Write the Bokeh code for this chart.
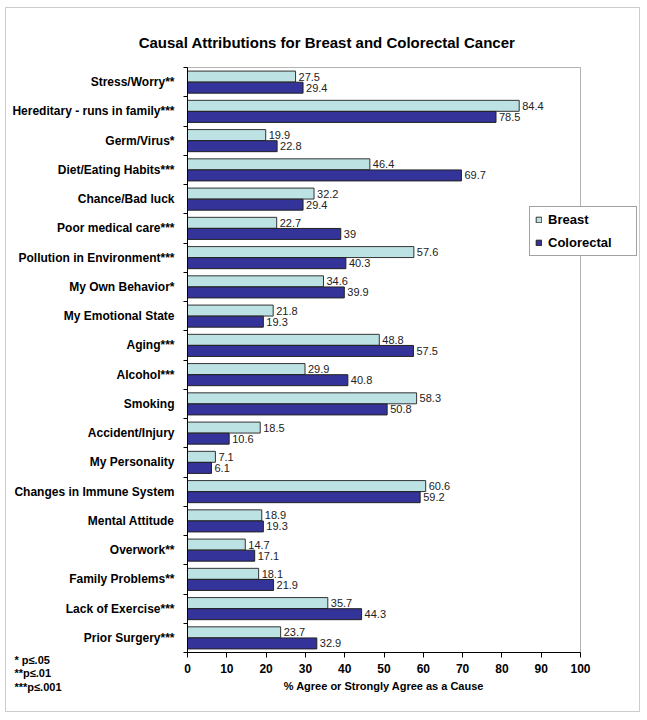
from bokeh.plotting import figure
from bokeh.models import (ColumnDataSource, FixedTicker, Legend, LegendItem, Label,
                          Range1d, BoxAnnotation)
from bokeh.core.properties import value
from bokeh.embed import file_html
from bokeh.resources import INLINE

categories = [
    "Stress/Worry**", "Hereditary - runs in family***", "Germ/Virus*",
    "Diet/Eating Habits***", "Chance/Bad luck", "Poor medical care***",
    "Pollution in Environment***", "My Own Behavior*", "My Emotional State",
    "Aging***", "Alcohol***", "Smoking", "Accident/Injury", "My Personality",
    "Changes in Immune System", "Mental Attitude", "Overwork**",
    "Family Problems**", "Lack of Exercise***", "Prior Surgery***",
]
breast = [27.5, 84.4, 19.9, 46.4, 32.2, 22.7, 57.6, 34.6, 21.8, 48.8,
          29.9, 58.3, 18.5, 7.1, 60.6, 18.9, 14.7, 18.1, 35.7, 23.7]
colorectal = [29.4, 78.5, 22.8, 69.7, 29.4, 39, 40.3, 39.9, 19.3, 57.5,
              40.8, 50.8, 10.6, 6.1, 59.2, 19.3, 17.1, 21.9, 44.3, 32.9]
x_ticks = [0, 10, 20, 30, 40, 50, 60, 70, 80, 90, 100]
footnotes = ["* p\u2264.05", "**p\u2264.01", "***p\u2264.001"]
title_text = "Causal Attributions for Breast and Colorectal Cancer"
x_title = "% Agree or Strongly Agree as a Cause"

FONT = "Liberation Sans"
BREAST_COLOR = "#BDE2E4"
COLO_COLOR = "#333399"

# ---- layout (pixels) ----
W, H = 645, 716
FX0, FX1 = 187, 580          # pixel x of value 0 and 100
FY0, FY1 = 67, 652           # pixel y of plot-box top and bottom
n = len(categories)
PXS = (FX1 - FX0) / 100.0
PYS = (FY1 - FY0) / n
top_v = n - 0.5
bot_v = -0.5


def dx(px):
    return (px - FX0) / PXS


def dy(py):
    return top_v - (py - FY0) / PYS


centers = [n - 1 - i for i in range(n)]
off = 0.19
hgt = 0.375

src_b = ColumnDataSource(dict(y=[c + off for c in centers], v=breast,
                              t=[f"{v:g}" for v in breast]))
src_c = ColumnDataSource(dict(y=[c - off for c in centers], v=colorectal,
                              t=[f"{v:g}" for v in colorectal]))

p = figure(width=W, height=H, output_backend="svg", toolbar_location=None,
           x_range=Range1d(dx(0), dx(W)), y_range=Range1d(dy(H), dy(0)),
           min_border_left=0, min_border_right=0, min_border_top=0,
           min_border_bottom=0)
p.outline_line_color = None
p.xgrid.visible = False
p.ygrid.visible = False

# outer border
p.add_layout(BoxAnnotation(left=dx(5), right=dx(639), top=dy(7), bottom=dy(711),
                           fill_alpha=0, line_color="#555555", line_width=1))
# plot box
p.add_layout(BoxAnnotation(left=0, right=100, top=top_v, bottom=bot_v,
                           fill_alpha=0, line_color="black", line_width=1))

rb = p.hbar(y="y", right="v", left=0, height=hgt, source=src_b,
            fill_color=BREAST_COLOR, line_color="#333333", line_width=1)
rc = p.hbar(y="y", right="v", left=0, height=hgt, source=src_c,
            fill_color=COLO_COLOR, line_color="#222222", line_width=1)

for src in (src_b, src_c):
    p.text(x="v", y="y", text="t", source=src, x_offset=3,
           text_font=value(FONT), text_font_size="11px",
           text_baseline="middle", text_align="left", text_color="#222222")

# x axis
xa = p.xaxis[0]
xa.fixed_location = bot_v
xa.bounds = (0, 100)
xa.ticker = FixedTicker(ticks=x_ticks)
xa.major_tick_out = 5
xa.major_tick_in = 0
xa.minor_tick_out = 0
xa.major_label_standoff = 6
xa.major_label_text_font = FONT
xa.major_label_text_font_style = "bold"
xa.major_label_text_font_size = "12px"
xa.major_label_text_color = "black"
xa.axis_label = x_title
xa.axis_label_text_font = FONT
xa.axis_label_text_font_style = "bold"
xa.axis_label_text_font_size = "11px"
xa.axis_label_standoff = 4
xa.axis_label_text_color = "black"
xa.axis_line_color = "black"
xa.major_tick_line_color = "black"

# y axis
ya = p.yaxis[0]
ya.fixed_location = 0
ya.bounds = (bot_v, top_v)
ya.ticker = FixedTicker(ticks=centers,
                        minor_ticks=[c + 0.5 for c in centers] + [bot_v])
ya.major_label_overrides = {c: categories[i] for i, c in enumerate(centers)}
ya.major_tick_out = 0
ya.major_tick_in = 0
ya.minor_tick_out = 4
ya.minor_tick_in = 0
ya.minor_tick_line_color = "black"
ya.major_label_standoff = 9
ya.major_label_text_font = FONT
ya.major_label_text_font_style = "bold"
ya.major_label_text_font_size = "12px"
ya.major_label_text_color = "black"
ya.axis_line_color = "black"

# title
p.add_layout(Label(x=dx(326.5), y=dy(42), text=title_text,
                   text_font=FONT, text_font_style="bold", text_font_size="15px",
                   text_align="center", text_baseline="middle", text_color="black"))

# footnotes
for k, ft in enumerate(footnotes):
    p.add_layout(Label(x=dx(14), y=dy(659 + 13.5 * k), text=ft,
                       text_font=FONT, text_font_style="bold", text_font_size="11px",
                       text_align="left", text_baseline="middle", text_color="black"))

legend = Legend(items=[LegendItem(label="Breast", renderers=[rb]),
                       LegendItem(label="Colorectal", renderers=[rc])],
                location=(529, H - 256), orientation="vertical",
                padding=5, spacing=8, label_height=12, label_width=83,
                glyph_width=7, glyph_height=7, label_standoff=6,
                label_text_font=FONT, label_text_font_style="bold",
                label_text_font_size="13px", label_text_color="black",
                border_line_color="#444444", border_line_width=1,
                background_fill_color="white", background_fill_alpha=1)
p.add_layout(legend, "center")

open("out.html", "w").write(file_html(p, INLINE))
